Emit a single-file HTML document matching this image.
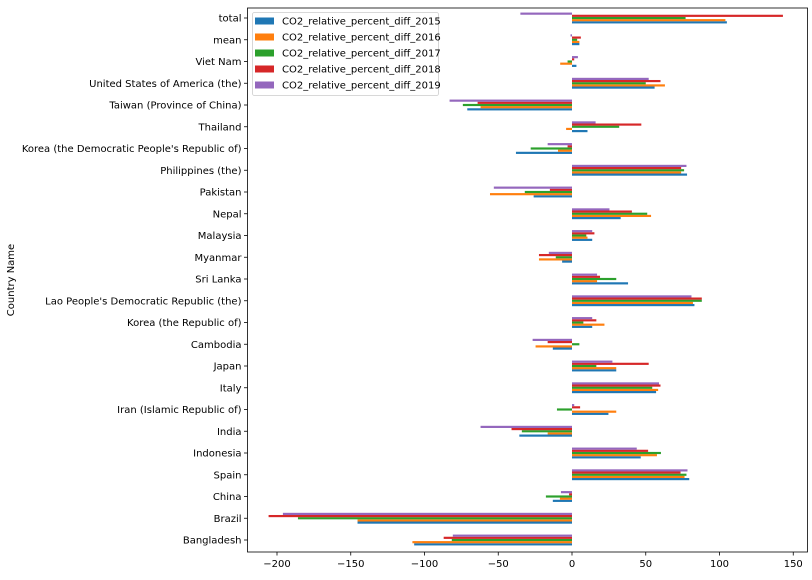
<!DOCTYPE html>
<html><head><meta charset="utf-8"><style>
body{margin:0;background:#fff;}
svg text{font-family:"DejaVu Sans","Liberation Sans",sans-serif;font-size:10px;fill:#000;}
</style></head><body>
<svg id="s" width="812" height="575" xmlns="http://www.w3.org/2000/svg"></svg>
<script>
const s=document.getElementById('s');
const ns='http://www.w3.org/2000/svg';
function el(t,a,txt){const e=document.createElementNS(ns,t);for(const k in a)e.setAttribute(k,a[k]);if(txt!==undefined)e.textContent=txt;s.appendChild(e);return e;}
const cats=[
["Bangladesh",[-107,-108.2,-81.5,-87,-80.8]],
["Brazil",[-145.4,-145.4,-185.8,-205.7,-196]],
["China",[-13,-8.2,-17.7,-2,-7.5]],
["Spain",[79.5,76.3,77.6,73.6,78.3]],
["Indonesia",[46.6,57.6,60.3,51.6,43.9]],
["India",[-35.7,-16.5,-34,-41,-62]],
["Iran (Islamic Republic of)",[24.7,30,-10.2,5.5,1.5]],
["Italy",[57,58.4,54.4,60,59]],
["Japan",[30,30,16.5,52,27.4]],
["Cambodia",[-13,-24.7,5,-16.5,-26.7]],
["Korea (the Republic of)",[13.7,22,7.7,16.5,13.7]],
["Lao People's Democratic Republic (the)",[83,82,88,88,81]],
["Sri Lanka",[38,17,30,19,17]],
["Myanmar",[-6.7,-22.4,-11,-22.4,-15.7]],
["Malaysia",[13.7,10.5,9.7,15.2,13.7]],
["Nepal",[33,53.6,51,40.6,25.4]],
["Pakistan",[-26,-55.6,-32,-15,-53]],
["Philippines (the)",[78,74,76,74,77.6]],
["Korea (the Democratic People's Republic of)",[-38,-9.5,-28,-3,-16.5]],
["Thailand",[10.5,-4,32,47,16]],
["Taiwan (Province of China)",[-71,-62,-74,-64,-83]],
["United States of America (the)",[56,63,50,60,52]],
["Viet Nam",[3,-8,-3,1.5,4]],
["mean",[5,5,3.5,6,-1]],
["total",[105,104,77,143,-35]]];
const cols=['#1f77b4','#ff7f0e','#2ca02c','#d62728','#9467bd'];
const X0=572,SC=1.475,L=247.5,R=807.5,T=8,B=552;
const X=v=>X0+v*SC;
cats.forEach((c,i)=>{
 const yc=540-i*21.75, bh=2.175;
 c[1].forEach((v,k)=>{
  const y=yc+5.44-(k+1)*bh;
  const x1=Math.min(X(0),X(v)),w=Math.abs(X(v)-X(0));
  el('rect',{x:x1,y:y,width:w,height:bh,fill:cols[k]});
 });
 el('line',{x1:L-3.5,x2:L,y1:yc,y2:yc,stroke:'#000','stroke-width':0.8});
 el('text',{x:L-6,y:yc+3.5,'text-anchor':'end'},c[0]);
});
[-200,-150,-100,-50,0,50,100,150].forEach(v=>{
 const x=X(v);
 el('line',{x1:x,x2:x,y1:B,y2:B+3.5,stroke:'#000','stroke-width':0.8});
 el('text',{x:x,y:B+15,'text-anchor':'middle'},v<0?'\u2212'+(-v):String(v));
});
el('rect',{x:L,y:T,width:R-L,height:B-T,fill:'none',stroke:'#000','stroke-width':0.8});
el('text',{x:0,y:0,'text-anchor':'middle',transform:'translate(14,280) rotate(-90)'},'Country Name');
el('rect',{x:252.5,y:12.5,width:186,height:83,rx:2,fill:'#fff','fill-opacity':0.8,stroke:'#ccc','stroke-width':0.8});
['2015','2016','2017','2018','2019'].forEach((yr,k)=>{
 const y=21+k*16;
 el('rect',{x:255,y:y-3.5,width:19,height:7,fill:cols[k]});
 el('text',{x:282,y:y+3.5},'CO2_relative_percent_diff_'+yr);
});
</script>
</body></html>
